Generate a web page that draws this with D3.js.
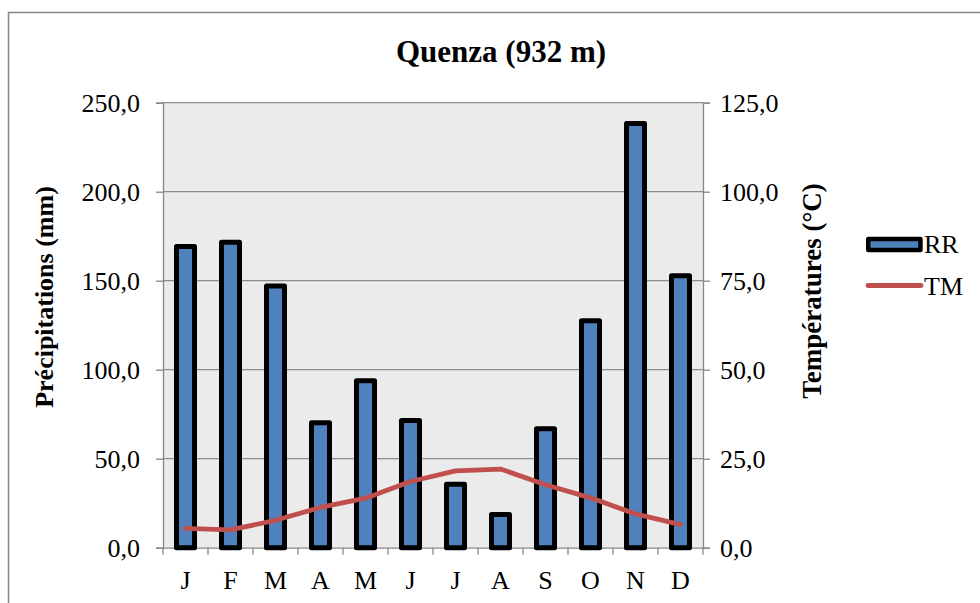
<!DOCTYPE html>
<html>
<head>
<meta charset="utf-8">
<script src="https://cdn.jsdelivr.net/npm/d3@7"></script>
<style>
  body { margin: 0; background: #fff; }
  svg { display: block; }
  svg text { font-family: "Liberation Serif", "Times New Roman", serif; fill: #000; }
</style>
</head>
<body>
<script>
// Monthly data for Quenza
var months = ["J", "F", "M", "A", "M", "J", "J", "A", "S", "O", "N", "D"];
var rr = [169.2, 171.6, 147.0, 70.2, 93.8, 71.5, 35.7, 18.7, 66.8, 127.5, 238.3, 152.8];  // précipitations (mm)
var tm = [5.4, 5.0, 7.7, 11.3, 13.9, 18.6, 21.6, 22.1, 17.7, 14.0, 9.5, 6.5];              // températures (°C)
var rrTicks = [0, 50, 100, 150, 200, 250];
var tmTicks = [0, 25, 50, 75, 100, 125];

var width = 980, height = 603;
var plot = { left: 163, right: 703, top: 102.7, bottom: 547.7 };
var serif = "'Liberation Serif', 'Times New Roman', serif";

var fmt = function (v) { return d3.format(".1f")(v).replace(".", ","); };

var svg = d3.select("body").append("svg")
    .attr("width", width)
    .attr("height", height);

// chart frame
svg.append("rect")
    .attr("x", 8.5).attr("y", 12.5)
    .attr("width", 990).attr("height", 620)
    .attr("fill", "#fff")
    .attr("stroke", "#868686")
    .attr("stroke-width", 1.5);

// scales
var x = d3.scaleBand()
    .domain(d3.range(months.length))
    .range([plot.left, plot.right])
    .paddingInner(0.6)
    .paddingOuter(0.3);

var y = d3.scaleLinear().domain([0, 250]).range([plot.bottom, plot.top]);
var y2 = d3.scaleLinear().domain([0, 125]).range([plot.bottom, plot.top]);

// plot background
svg.append("rect")
    .attr("x", plot.left).attr("y", plot.top)
    .attr("width", plot.right - plot.left)
    .attr("height", plot.bottom - plot.top)
    .attr("fill", "#ebebeb");

// gridlines
svg.append("g")
    .selectAll("line")
    .data(rrTicks.slice(1))
    .enter().append("line")
    .attr("x1", plot.left).attr("x2", plot.right)
    .attr("y1", d => y(d)).attr("y2", d => y(d))
    .attr("stroke", "#8c8c8c")
    .attr("stroke-width", 1.3);

// left axis
var yAxis = svg.append("g")
    .attr("transform", "translate(" + plot.left + ",0)")
    .call(d3.axisLeft(y).tickValues(rrTicks).tickFormat(fmt).tickSize(7).tickPadding(16));

// right axis
var yAxis2 = svg.append("g")
    .attr("transform", "translate(" + plot.right + ",0)")
    .call(d3.axisRight(y2).tickValues(tmTicks).tickFormat(fmt).tickSize(7).tickPadding(10));

// bottom axis (ticks at category boundaries)
var xAxis = svg.append("g")
    .attr("transform", "translate(0," + plot.bottom + ")")
    .call(d3.axisBottom(x).tickSize(0).tickPadding(23).tickFormat(i => months[i]));

xAxis.selectAll(".bound")
    .data(d3.range(months.length + 1))
    .enter().append("line")
    .attr("class", "bound")
    .attr("x1", i => plot.left + i * x.step())
    .attr("x2", i => plot.left + i * x.step())
    .attr("y1", 0).attr("y2", 7)
    .attr("stroke", "#868686")
    .attr("stroke-width", 1.3);

[yAxis, yAxis2, xAxis].forEach(function (g) {
    g.attr("font-family", null).attr("font-size", null);
    g.selectAll(".domain").attr("stroke", "#868686").attr("stroke-width", 1.3);
    g.selectAll(".tick line").attr("stroke", "#868686").attr("stroke-width", 1.3);
    g.selectAll("text")
        .attr("fill", "#000")
        .style("font-family", serif)
        .style("font-size", "26px");
});

// bars (RR)
svg.append("g")
    .selectAll("rect")
    .data(rr)
    .enter().append("rect")
    .attr("x", (d, i) => x(i))
    .attr("y", d => y(d))
    .attr("width", x.bandwidth())
    .attr("height", d => plot.bottom - y(d))
    .attr("fill", "#4f81bd")
    .attr("stroke", "#000")
    .attr("stroke-width", 5)
    .attr("stroke-linejoin", "round");

// line (TM)
var line = d3.line()
    .x((d, i) => x(i) + x.bandwidth() / 2)
    .y(d => y2(d));

svg.append("path")
    .attr("d", line(tm))
    .attr("fill", "none")
    .attr("stroke", "#c0504d")
    .attr("stroke-width", 4.8)
    .attr("stroke-linecap", "round")
    .attr("stroke-linejoin", "round");

// title
svg.append("text")
    .attr("x", 501).attr("y", 62)
    .attr("text-anchor", "middle")
    .style("font-family", serif)
    .style("font-size", "31px")
    .style("font-weight", "bold")
    .text("Quenza (932 m)");

// axis titles
svg.append("text")
    .attr("transform", "translate(53,297) rotate(-90)")
    .attr("text-anchor", "middle")
    .style("font-family", serif)
    .style("font-size", "26px")
    .style("font-weight", "bold")
    .text("Précipitations (mm)");

svg.append("text")
    .attr("transform", "translate(821,291) rotate(-90)")
    .attr("text-anchor", "middle")
    .style("font-family", serif)
    .style("font-size", "27px")
    .style("font-weight", "bold")
    .text("Températures (°C)");

// legend
var legend = svg.append("g");
legend.append("rect")
    .attr("x", 868.25).attr("y", 239)
    .attr("width", 52.2).attr("height", 11)
    .attr("fill", "#4f81bd")
    .attr("stroke", "#000")
    .attr("stroke-width", 4.5)
    .attr("stroke-linejoin", "round");
legend.append("text")
    .attr("x", 924).attr("y", 253)
    .style("font-family", serif)
    .style("font-size", "26px")
    .text("RR");
legend.append("line")
    .attr("x1", 868).attr("x2", 921)
    .attr("y1", 285.5).attr("y2", 285.5)
    .attr("stroke", "#c0504d")
    .attr("stroke-width", 4.8)
    .attr("stroke-linecap", "round");
legend.append("text")
    .attr("x", 924).attr("y", 295)
    .style("font-family", serif)
    .style("font-size", "26px")
    .text("TM");
</script>
</body>
</html>
